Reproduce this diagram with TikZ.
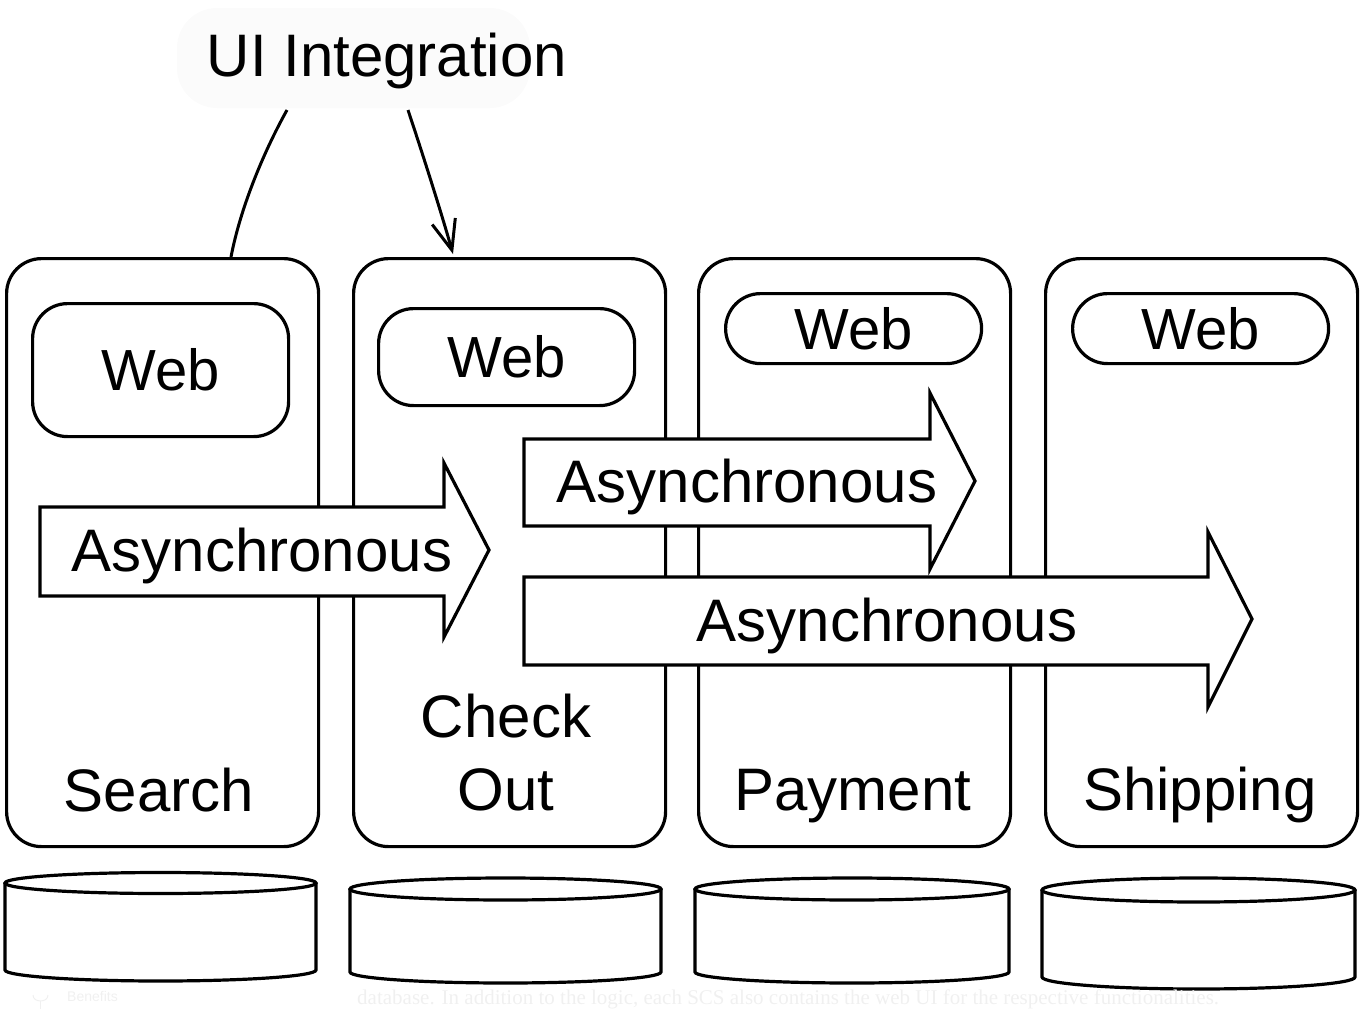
\documentclass[tikz,border=0pt]{standalone}
\usepackage{fontspec}
\setmainfont{Liberation Sans}
\newfontfamily\faintserif{Liberation Serif}
\usetikzlibrary{arrows.meta}
\begin{document}
\begin{tikzpicture}[x=1pt,y=-1pt,
  scs/.style={draw, line width=3.2pt, rounded corners=35pt, minimum width=312pt,
              minimum height=588pt, anchor=north west, inner sep=0pt},
  web/.style={draw, line width=3.2pt, rounded corners=35pt, anchor=north west,
              inner sep=0pt, minimum width=256pt, font=\fontsize{58}{70}\selectfont},
  lbl/.style={font=\fontsize{60}{73}\selectfont, inner sep=0pt, anchor=base},
  bigarrow/.style={draw, fill=white, line width=3.2pt, line join=miter},
  db/.style={draw, fill=white, line width=3.2pt},
  conn/.style={draw, line width=3pt},
  faint/.style={text=black!6, inner sep=0pt, anchor=base west}
]
\useasboundingbox (0,0) rectangle (1361,1010);

% faint backdrop behind the title
\fill[black!1.5, rounded corners=40pt] (177,8) rectangle (530,108);

% self-contained systems
\node[scs] (search)   at (5,257)    {};
\node[scs] (checkout) at (352,257)  {};
\node[scs] (payment)  at (697,257)  {};
\node[scs] (shipping) at (1044,257) {};

% web parts
\node[web, minimum height=133pt] (web1) at (31,302)   {Web};
\node[web, minimum height=97pt]  (web2) at (377,307)  {Web};
\node[web, minimum height=70pt]  (web3) at (724,292)  {Web};
\node[web, minimum height=70pt]  (web4) at (1071,292) {Web};

% asynchronous arrows
\draw[bigarrow] (40,507) -- (444,507) -- (444,463) -- (489,550) -- (444,637) -- (444,596) -- (40,596) -- cycle;
\draw[bigarrow] (524,439) -- (930,439) -- (930,393) -- (975,481) -- (930,569) -- (930,526) -- (524,526) -- cycle;
\draw[bigarrow] (524,577) -- (1208,577) -- (1208,532) -- (1252,619) -- (1208,707) -- (1208,665) -- (524,665) -- cycle;
\node[lbl] (async1) at (262,571) {Asynchronous};
\node[lbl] (async2) at (747,502) {Asynchronous};
\node[lbl] (async3) at (887,641) {Asynchronous};

% system names
\node[lbl] (searchlbl) at (159,811) {Search};
\node[lbl, anchor=north, align=center] (checkoutlbl) at (506,693.5) {Check\\Out};
\node[lbl] (paymentlbl) at (853,810) {Payment};
\node[lbl] (shippinglbl) at (1200,810) {Shipping};

% UI integration
\node[lbl] (ui) at (387,76) {UI Integration};
\coordinate (uiA) at (287,110);
\coordinate (uiB) at (408,110);
\draw[conn] (uiA) .. controls (262,155) and (240,210) .. ([xshift=226pt]search.north west);
\draw[conn, -{Straight Barb[length=30pt,width=24pt]}] (uiB) .. controls (424,158) and (442,215) .. ([xshift=101pt,yshift=3pt]checkout.north west);

% databases
\foreach \L/\R/\T/\r/\B/\rb in {5/316/883/10.5/970/11, 350/661/889/11/972/11, 695/1009/889/11/972/11, 1042/1355/890/12/977/12}{
  \pgfmathsetmacro{\a}{(\R-\L)/2}
  \pgfmathsetmacro{\C}{(\R+\L)/2}
  \draw[db] (\L,\T) -- (\L,\B) arc[start angle=180, end angle=0, x radius=\a, y radius=\rb] -- (\R,\T);
  \draw[db] (\C,\T) ellipse [x radius=\a, y radius=\r];
}

% faint page remnants
\draw[black!6, line width=1pt] (33,995) .. controls (33,1003) and (48,1003) .. (48,995);
\draw[black!6, line width=1pt] (40.5,1001) -- (40.5,1009);
\node[faint, font=\fontsize{14}{16}\selectfont] (benefits) at (67,1001) {Benefits};
\node[faint, font=\faintserif\fontsize{21}{24}\selectfont] (note) at (357,1004.5) {database. In addition to the logic, each SCS also contains the web UI for the respective functionalities.};
\end{tikzpicture}
\end{document}
